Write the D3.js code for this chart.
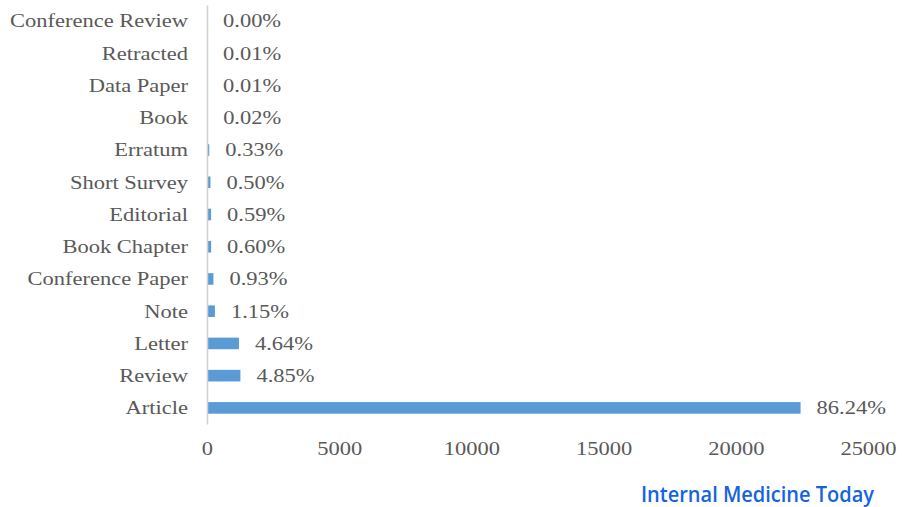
<!DOCTYPE html>
<html>
<head>
<meta charset="utf-8">
<script src="https://cdn.jsdelivr.net/npm/d3@7/dist/d3.min.js"></script>
<style>
  html, body { margin: 0; padding: 0; background: #fff; }
  svg { display: block; }
</style>
</head>
<body>
<svg id="chart" width="902" height="507"></svg>
<script>
// Document types, top to bottom
const categories = ["Conference Review", "Retracted", "Data Paper", "Book", "Erratum",
  "Short Survey", "Editorial", "Book Chapter", "Conference Paper", "Note",
  "Letter", "Review", "Article"];
// Number of documents per type
const counts = [1, 3, 3, 5, 86, 130, 154, 156, 242, 299, 1208, 1263, 22450];
// Share of all documents, as printed next to each bar
const shares = ["0.00%", "0.01%", "0.01%", "0.02%", "0.33%", "0.50%", "0.59%",
  "0.60%", "0.93%", "1.15%", "4.64%", "4.85%", "86.24%"];
const xTicks = [0, 5000, 10000, 15000, 20000, 25000];

const svg = d3.select("#chart");
const textColor = "#595959";
const serif = "'Liberation Serif', 'Times New Roman', serif";
const stretch = 1.25;
const fontSize = "18px";

const x = d3.scaleLinear().domain([0, 25000]).range([207, 868]);
const y = d3.scaleBand().domain(categories).range([5, 424])
  .paddingInner(0.64).paddingOuter(0.32);

// Bars
svg.append("g").selectAll("rect")
  .data(categories)
  .join("rect")
  .attr("x", x(0))
  .attr("y", d => y(d))
  .attr("width", (d, i) => x(counts[i]) - x(0))
  .attr("height", y.bandwidth())
  .attr("fill", "#5B9BD5");

// Category axis
const yAxis = svg.append("g")
  .attr("transform", `translate(${x(0)},0)`)
  .call(d3.axisLeft(y).tickSize(0).tickSizeOuter(0));
yAxis.select(".domain").attr("stroke", "#d0d0d0").attr("stroke-width", 1.5);
yAxis.selectAll("text")
  .attr("x", 0)
  .attr("dy", "0.35em")
  .attr("transform", `translate(-19,0) scale(${stretch},1)`)
  .attr("fill", textColor)
  .style("font-family", serif)
  .style("font-size", fontSize);

// Value axis (labels only)
const xAxis = svg.append("g")
  .attr("transform", "translate(0,449)")
  .call(d3.axisBottom(x).tickValues(xTicks).tickFormat(d3.format("d")).tickSize(0));
xAxis.select(".domain").remove();
xAxis.selectAll("text")
  .attr("y", 0)
  .attr("dy", "0.35em")
  .attr("transform", `scale(${stretch},1)`)
  .attr("fill", textColor)
  .style("font-family", serif)
  .style("font-size", fontSize);

// Share labels at bar ends
svg.append("g").selectAll("text")
  .data(categories)
  .join("text")
  .attr("transform", (d, i) =>
    `translate(${x(counts[i]) + 16},${y(d) + y.bandwidth() / 2}) scale(${stretch},1)`)
  .attr("dy", "0.35em")
  .attr("fill", textColor)
  .style("font-family", serif)
  .style("font-size", fontSize)
  .text((d, i) => shares[i]);

// Publisher mark
svg.append("text")
  .attr("x", 641)
  .attr("y", 502)
  .attr("textLength", 233)
  .attr("lengthAdjust", "spacingAndGlyphs")
  .attr("fill", "#1463e0")
  .style("font-family", "'Open Sans', sans-serif")
  .style("font-weight", 600)
  .style("font-size", "21px")
  .text("Internal Medicine Today");
</script>
</body>
</html>
